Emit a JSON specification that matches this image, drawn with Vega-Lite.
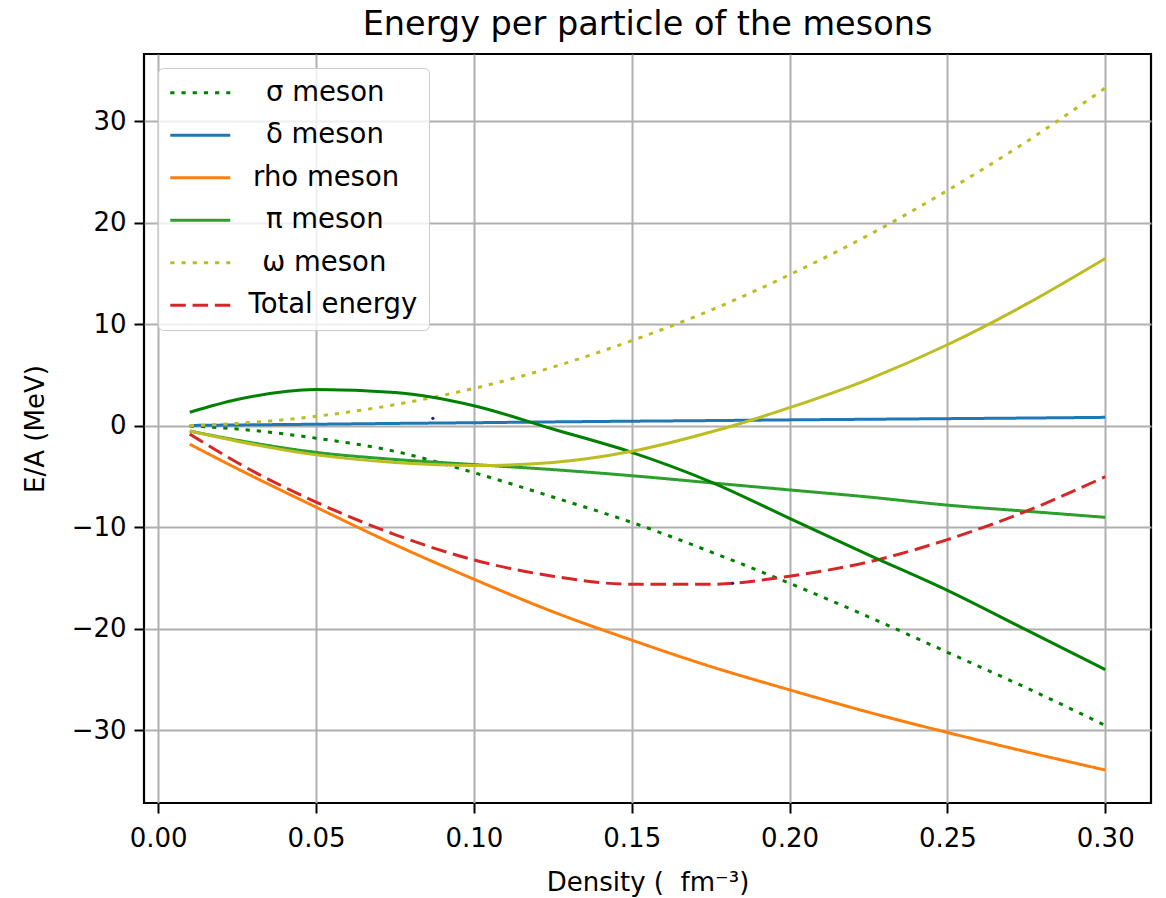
{
  "$schema": "https://vega.github.io/schema/vega-lite/v6.json",
  "width": 1007,
  "height": 749,
  "autosize": {"type": "none"},
  "padding": {"left": 144, "top": 54, "right": 15, "bottom": 95},
  "background": "white",
  "title": {"text": "Energy per particle of the mesons", "fontSize": 33.5, "font": "DejaVu Sans", "fontWeight": "normal", "color": "black", "offset": 12, "anchor": "middle"},
  "config": {
    "view": {"stroke": "black", "strokeWidth": 2.2},
    "axis": {"labelFont": "DejaVu Sans", "labelFontSize": 26, "labelColor": "black", "titleFont": "DejaVu Sans", "titleFontSize": 26, "titleFontWeight": "normal", "titleColor": "black", "gridColor": "#b0b0b0", "gridWidth": 2, "tickColor": "black", "tickWidth": 2, "tickSize": 10, "domain": false, "labelPadding": 8},
    "axisX": {"labelPadding": 12},
    "legend": {"orient": "none", "legendX": 14, "legendY": 14, "symbolSize": 144, "symbolStrokeWidth": 3, "labelFont": "DejaVu Sans", "labelFontSize": 27.5, "labelColor": "black", "labelOffset": 52, "labelLimit": 0, "rowPadding": 13.5, "padding": 11, "fillColor": "rgba(255,255,255,0.8)", "strokeColor": "#cccccc", "cornerRadius": 5}
  },
  "datasets": {
    "curves": [
      {"series": "σ meson", "density": 0.01, "energy": 0.0},
      {"series": "σ meson", "density": 0.025, "energy": -0.3},
      {"series": "σ meson", "density": 0.05, "energy": -1.2},
      {"series": "σ meson", "density": 0.075, "energy": -2.5},
      {"series": "σ meson", "density": 0.1, "energy": -4.6},
      {"series": "σ meson", "density": 0.125, "energy": -7.0},
      {"series": "σ meson", "density": 0.15, "energy": -9.5},
      {"series": "σ meson", "density": 0.175, "energy": -12.4},
      {"series": "σ meson", "density": 0.2, "energy": -15.5},
      {"series": "σ meson", "density": 0.225, "energy": -18.8},
      {"series": "σ meson", "density": 0.25, "energy": -22.3},
      {"series": "σ meson", "density": 0.275, "energy": -25.8},
      {"series": "σ meson", "density": 0.3, "energy": -29.5},
      {"series": "δ meson", "density": 0.01, "energy": 0.05},
      {"series": "δ meson", "density": 0.025, "energy": 0.1},
      {"series": "δ meson", "density": 0.05, "energy": 0.17},
      {"series": "δ meson", "density": 0.075, "energy": 0.25},
      {"series": "δ meson", "density": 0.1, "energy": 0.32},
      {"series": "δ meson", "density": 0.125, "energy": 0.4},
      {"series": "δ meson", "density": 0.15, "energy": 0.47},
      {"series": "δ meson", "density": 0.175, "energy": 0.53},
      {"series": "δ meson", "density": 0.2, "energy": 0.6},
      {"series": "δ meson", "density": 0.225, "energy": 0.66},
      {"series": "δ meson", "density": 0.25, "energy": 0.72},
      {"series": "δ meson", "density": 0.275, "energy": 0.78},
      {"series": "δ meson", "density": 0.3, "energy": 0.85},
      {"series": "rho meson", "density": 0.01, "energy": -1.8},
      {"series": "rho meson", "density": 0.025, "energy": -4.2},
      {"series": "rho meson", "density": 0.05, "energy": -8.0},
      {"series": "rho meson", "density": 0.075, "energy": -11.7},
      {"series": "rho meson", "density": 0.1, "energy": -15.1},
      {"series": "rho meson", "density": 0.125, "energy": -18.3},
      {"series": "rho meson", "density": 0.15, "energy": -21.1},
      {"series": "rho meson", "density": 0.175, "energy": -23.7},
      {"series": "rho meson", "density": 0.2, "energy": -26.0},
      {"series": "rho meson", "density": 0.225, "energy": -28.2},
      {"series": "rho meson", "density": 0.25, "energy": -30.2},
      {"series": "rho meson", "density": 0.275, "energy": -32.1},
      {"series": "rho meson", "density": 0.3, "energy": -33.9},
      {"series": "π meson", "density": 0.01, "energy": -0.5},
      {"series": "π meson", "density": 0.025, "energy": -1.4},
      {"series": "π meson", "density": 0.05, "energy": -2.6},
      {"series": "π meson", "density": 0.075, "energy": -3.3},
      {"series": "π meson", "density": 0.1, "energy": -3.8},
      {"series": "π meson", "density": 0.125, "energy": -4.3},
      {"series": "π meson", "density": 0.15, "energy": -4.9},
      {"series": "π meson", "density": 0.175, "energy": -5.6},
      {"series": "π meson", "density": 0.2, "energy": -6.3},
      {"series": "π meson", "density": 0.225, "energy": -7.0},
      {"series": "π meson", "density": 0.25, "energy": -7.8},
      {"series": "π meson", "density": 0.275, "energy": -8.4},
      {"series": "π meson", "density": 0.3, "energy": -9.0},
      {"series": "ω meson", "density": 0.01, "energy": 0.04},
      {"series": "ω meson", "density": 0.025, "energy": 0.25},
      {"series": "ω meson", "density": 0.05, "energy": 0.95},
      {"series": "ω meson", "density": 0.075, "energy": 2.1},
      {"series": "ω meson", "density": 0.1, "energy": 3.7},
      {"series": "ω meson", "density": 0.125, "energy": 5.8},
      {"series": "ω meson", "density": 0.15, "energy": 8.4},
      {"series": "ω meson", "density": 0.175, "energy": 11.4},
      {"series": "ω meson", "density": 0.2, "energy": 14.9},
      {"series": "ω meson", "density": 0.225, "energy": 18.8},
      {"series": "ω meson", "density": 0.25, "energy": 23.2},
      {"series": "ω meson", "density": 0.275, "energy": 28.0},
      {"series": "ω meson", "density": 0.3, "energy": 33.3},
      {"series": "Total energy", "density": 0.01, "energy": -0.8},
      {"series": "Total energy", "density": 0.025, "energy": -3.6},
      {"series": "Total energy", "density": 0.05, "energy": -7.5},
      {"series": "Total energy", "density": 0.075, "energy": -10.7},
      {"series": "Total energy", "density": 0.1, "energy": -13.2},
      {"series": "Total energy", "density": 0.125, "energy": -14.8},
      {"series": "Total energy", "density": 0.15, "energy": -15.6},
      {"series": "Total energy", "density": 0.175, "energy": -15.6},
      {"series": "Total energy", "density": 0.2, "energy": -14.8},
      {"series": "Total energy", "density": 0.225, "energy": -13.4},
      {"series": "Total energy", "density": 0.25, "energy": -11.2},
      {"series": "Total energy", "density": 0.275, "energy": -8.4},
      {"series": "Total energy", "density": 0.3, "energy": -5.0},
      {"series": "unlabelled green", "density": 0.01, "energy": 1.35},
      {"series": "unlabelled green", "density": 0.025, "energy": 2.6},
      {"series": "unlabelled green", "density": 0.05, "energy": 3.6},
      {"series": "unlabelled green", "density": 0.075, "energy": 3.3},
      {"series": "unlabelled green", "density": 0.1, "energy": 2.0},
      {"series": "unlabelled green", "density": 0.125, "energy": -0.3},
      {"series": "unlabelled green", "density": 0.15, "energy": -2.6},
      {"series": "unlabelled green", "density": 0.175, "energy": -5.5},
      {"series": "unlabelled green", "density": 0.2, "energy": -9.1},
      {"series": "unlabelled green", "density": 0.225, "energy": -12.7},
      {"series": "unlabelled green", "density": 0.25, "energy": -16.2},
      {"series": "unlabelled green", "density": 0.275, "energy": -20.1},
      {"series": "unlabelled green", "density": 0.3, "energy": -24.0},
      {"series": "unlabelled olive", "density": 0.01, "energy": -0.5},
      {"series": "unlabelled olive", "density": 0.025, "energy": -1.5},
      {"series": "unlabelled olive", "density": 0.05, "energy": -2.85},
      {"series": "unlabelled olive", "density": 0.075, "energy": -3.6},
      {"series": "unlabelled olive", "density": 0.1, "energy": -3.9},
      {"series": "unlabelled olive", "density": 0.125, "energy": -3.6},
      {"series": "unlabelled olive", "density": 0.15, "energy": -2.5},
      {"series": "unlabelled olive", "density": 0.175, "energy": -0.6},
      {"series": "unlabelled olive", "density": 0.2, "energy": 1.8},
      {"series": "unlabelled olive", "density": 0.225, "energy": 4.6},
      {"series": "unlabelled olive", "density": 0.25, "energy": 8.0},
      {"series": "unlabelled olive", "density": 0.275, "energy": 12.0},
      {"series": "unlabelled olive", "density": 0.3, "energy": 16.5}
    ],
    "dots": [
      {"density": 0.087, "energy": 0.75},
      {"density": 0.182, "energy": -15.5}
    ]
  },
  "layer": [
    {
      "data": {"name": "curves"},
      "transform": [{"filter": {"field": "series", "oneOf": ["σ meson", "δ meson", "rho meson", "π meson", "ω meson", "Total energy"]}}],
      "mark": {"type": "line", "strokeWidth": 3, "interpolate": "monotone"},
      "encoding": {
        "x": {"field": "density", "type": "quantitative", "scale": {"domain": [-0.0045, 0.3145], "nice": false, "zero": false}, "axis": {"values": [0, 0.05, 0.1, 0.15, 0.2, 0.25, 0.3], "format": ".2f", "title": "Density (\u00a0\u00a0fm⁻³)", "titleY": 79, "titleBaseline": "middle"}},
        "y": {"field": "energy", "type": "quantitative", "scale": {"domain": [-37.15, 36.65], "nice": false, "zero": false}, "axis": {"values": [-30, -20, -10, 0, 10, 20, 30], "format": "d", "title": "E/A (MeV)", "titleX": -109, "titleY": 374.5, "titleAlign": "center", "titleBaseline": "middle", "titleAngle": -90}},
        "color": {"field": "series", "type": "nominal", "scale": {"domain": ["σ meson", "δ meson", "rho meson", "π meson", "ω meson", "Total energy"], "range": ["#008000", "#1f77b4", "#ff7f0e", "#2ca02c", "#bcbd22", "#d62728"]}, "legend": {"title": null, "symbolType": "M-2.08,0H7.92", "labelExpr": "datum.label == 'Total energy' ? datum.label : datum.label == 'rho meson' ? '\u200b\u2006' + datum.label : datum.label == 'ω meson' ? '\u200b\u2002' + datum.label : '\u200b\u2007' + datum.label"}},
        "strokeDash": {"field": "series", "type": "nominal", "scale": {"domain": ["σ meson", "δ meson", "rho meson", "π meson", "ω meson", "Total energy"], "range": [[4.2, 7], [1, 0], [1, 0], [1, 0], [4.2, 7], [15.5, 6.8]]}, "legend": {"title": null, "symbolType": "M-2.08,0H7.92", "labelExpr": "datum.label == 'Total energy' ? datum.label : datum.label == 'rho meson' ? '\u200b\u2006' + datum.label : datum.label == 'ω meson' ? '\u200b\u2002' + datum.label : '\u200b\u2007' + datum.label"}}
      }
    },
    {
      "data": {"name": "curves"},
      "transform": [{"filter": {"field": "series", "equal": "unlabelled green"}}],
      "mark": {"type": "line", "strokeWidth": 3, "interpolate": "monotone", "color": "#008000"},
      "encoding": {
        "x": {"field": "density", "type": "quantitative"},
        "y": {"field": "energy", "type": "quantitative"}
      }
    },
    {
      "data": {"name": "curves"},
      "transform": [{"filter": {"field": "series", "equal": "unlabelled olive"}}],
      "mark": {"type": "line", "strokeWidth": 3, "interpolate": "monotone", "color": "#bcbd22"},
      "encoding": {
        "x": {"field": "density", "type": "quantitative"},
        "y": {"field": "energy", "type": "quantitative"}
      }
    },
    {
      "data": {"name": "dots"},
      "mark": {"type": "point", "filled": true, "size": 10, "color": "#1a1aa0", "opacity": 1},
      "encoding": {
        "x": {"field": "density", "type": "quantitative"},
        "y": {"field": "energy", "type": "quantitative"}
      }
    }
  ]
}
